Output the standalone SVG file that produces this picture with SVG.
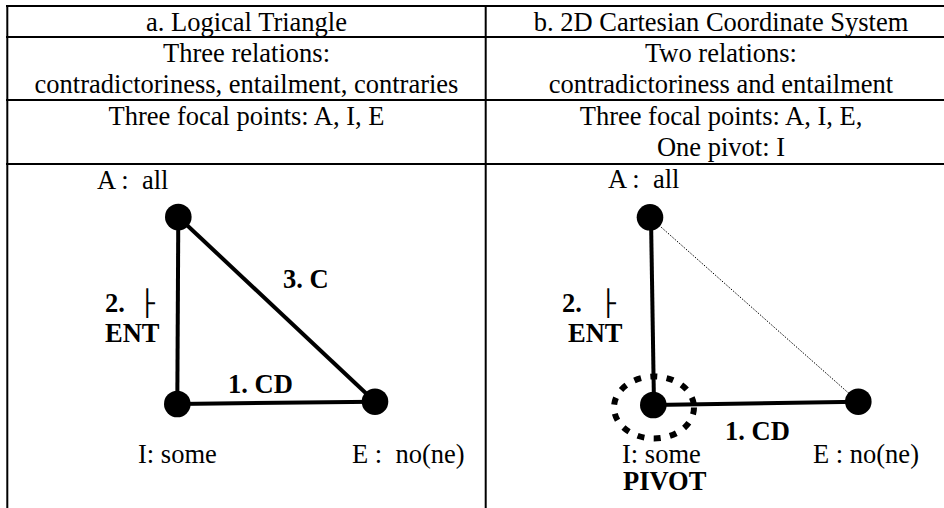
<svg xmlns="http://www.w3.org/2000/svg" width="944" height="508" viewBox="0 0 944 508">
<style>
.t{font-family:"Liberation Serif","Times New Roman",serif;font-size:26.5px;fill:#000}
.c{text-anchor:middle}
.b{font-weight:bold}
.box{font-family:"DejaVu Sans Mono",monospace;font-size:25px;fill:#000}
.grid{stroke:#000;stroke-width:2;fill:none}
.edge{stroke:#000;stroke-width:4;fill:none}
.node{fill:#000}
</style>
<rect width="944" height="508" fill="#fff"/>
<g id="table">
<line class="grid" x1="6" y1="6" x2="944" y2="6"/>
<line class="grid" x1="6" y1="37" x2="944" y2="37"/>
<line class="grid" x1="6" y1="100" x2="944" y2="100"/>
<line class="grid" x1="6" y1="164" x2="944" y2="164"/>
<line class="grid" x1="7.3" y1="5" x2="7.3" y2="508" stroke-width="2.5"/>
<line class="grid" x1="485.7" y1="5" x2="485.7" y2="508"/>
<text class="t c" x="246.5" y="31">a. Logical Triangle</text>
<text class="t c" x="721" y="31">b. 2D Cartesian Coordinate System</text>
<text class="t c" x="246.5" y="62">Three relations:</text>
<text class="t c" x="246.5" y="93">contradictoriness, entailment, contraries</text>
<text class="t c" x="721" y="62">Two relations:</text>
<text class="t c" x="721" y="93">contradictoriness and entailment</text>
<text class="t c" x="246.5" y="125">Three focal points: A, I, E</text>
<text class="t c" x="721" y="125">Three focal points: A, I, E,</text>
<text class="t c" x="721" y="156">One pivot: I</text>
</g>
<g id="connectors">
<line id="a-AI" class="edge" x1="178.3" y1="217" x2="177.3" y2="404"/>
<line id="a-AE" class="edge" x1="178.3" y1="217" x2="375" y2="401.7"/>
<line id="a-IE" class="edge" x1="177.3" y1="404" x2="375" y2="401.7"/>
<line id="b-AI" class="edge" x1="651" y1="217.3" x2="654" y2="405"/>
<line id="b-IE" class="edge" x1="653.3" y1="405" x2="858.3" y2="401.7"/>
<line id="b-AE" x1="650" y1="217.3" x2="858.3" y2="401.7" stroke="#000" stroke-width="1" stroke-dasharray="1.5 1.5"/>
<text class="t b" x="283" y="288">3. C</text>
<text class="t b" x="105" y="312">2.</text>
<text class="box" x="139.5" y="312">├</text>
<text class="t b" x="105" y="342">ENT</text>
<text class="t b" x="228" y="393">1. CD</text>
<text class="t b" x="562" y="312">2.</text>
<text class="box" x="600.5" y="312">├</text>
<text class="t b" x="568" y="342">ENT</text>
<text class="t b" x="725" y="440">1. CD</text>
</g>
<g id="a-A">
<circle class="node" cx="178.3" cy="217" r="13.3"/>
<text class="t" x="97" y="189" xml:space="preserve">A :  all</text>
</g>
<g id="a-I">
<circle class="node" cx="177.3" cy="404" r="13.3"/>
<text class="t" x="138" y="463">I: some</text>
</g>
<g id="a-E">
<circle class="node" cx="375" cy="401.7" r="13.3"/>
<text class="t" x="352" y="463" xml:space="preserve">E :  no(ne)</text>
</g>
<g id="b-A">
<circle class="node" cx="650" cy="217.3" r="13.3"/>
<text class="t" x="608" y="188" xml:space="preserve">A :  all</text>
</g>
<g id="b-I">
<ellipse cx="654" cy="407.5" rx="40" ry="31" fill="none" stroke="#000" stroke-width="6" stroke-dasharray="7 9.4"/>
<circle class="node" cx="653.3" cy="405" r="13.3"/>
<text class="t" x="622" y="463">I: some</text>
<text class="t b" x="623" y="490" font-size="20">PIVOT</text>
</g>
<g id="b-E">
<circle class="node" cx="858.3" cy="401.7" r="13.3"/>
<text class="t" x="813" y="463">E : no(ne)</text>
</g>
</svg>
